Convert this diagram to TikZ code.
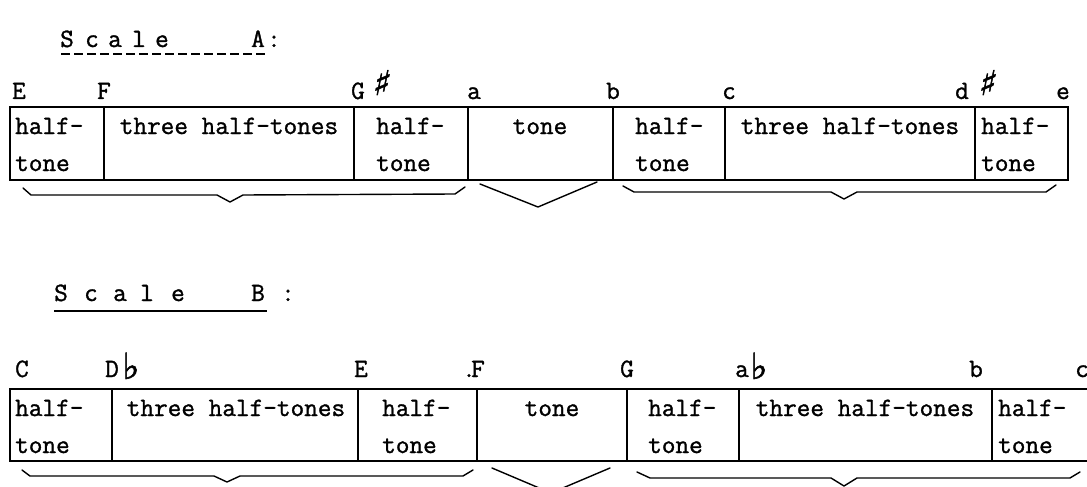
\documentclass[tikz,border=0pt]{standalone}
\usepackage{fontspec}
\setmonofont{Latin Modern Mono}[FakeBold=1.2]
\newfontfamily\symfont{DejaVu Sans}[FakeBold=1.5]
\newcommand\mytt{\fontsize{26.5}{30}\selectfont\ttfamily}
\begin{document}
\begin{tikzpicture}[x=1pt,y=-1pt,
  cell/.style={draw, line width=1.6pt, inner sep=0pt, outer sep=0pt, anchor=north west},
  txt/.style={inner sep=0pt, font=\mytt, anchor=base west},
  ctxt/.style={inner sep=0pt, font=\mytt, anchor=base},
  lbl/.style={inner sep=0pt, font=\mytt, anchor=base},
  ttl/.style={inner sep=0pt, font=\mytt, anchor=base},
  sharp/.style={inner sep=0pt, font=\symfont\fontsize{34}{34}\selectfont, anchor=base, xslant=0.2},
  flat/.style={inner sep=0pt, font=\symfont\fontsize{36}{36}\selectfont, anchor=base},
  brc/.style={line width=1.4pt, line join=round, line cap=round}]
\useasboundingbox (0,0) rectangle (1087,487);
\clip (0,0) rectangle (1087,487);

% ---------------- Scale A ----------------
\node[ttl] (tA1) at (67,47) {S};
\node[ttl] (tA2) at (92,47) {c};
\node[ttl] (tA3) at (115,47) {a};
\node[ttl] (tA4) at (139,47) {l};
\node[ttl] (tA5) at (162,47) {e};
\node[ttl] (tA6) at (258,47) {A};
\node[ttl] (tA7) at (274,47) {:};
\coordinate (uA1) at (61,54);
\coordinate (uA2) at (266,54);
\draw[line width=1.3pt, dash pattern=on 9pt off 4pt] (uA1) -- (uA2);

% labels
\node[lbl] (lAE) at (19,99) {E};
\node[lbl] (lAF) at (104,99) {F};
\node[lbl] (lAG) at (358,99) {G};
\node[sharp] (sA1) at (380,95) {♯};
\node[lbl] (lAa) at (474,99) {a};
\node[lbl] (lAb) at (613,99) {b};
\node[lbl] (lAc) at (729,99) {c};
\node[lbl] (lAd) at (962,99) {d};
\node[sharp] (sA2) at (986,95) {♯};
\node[lbl] (lAe) at (1063,99) {e};

% cells
\node[cell, minimum width=94pt, minimum height=73pt] (cA1) at (10,107) {};
\node[cell, minimum width=250pt, minimum height=73pt] (cA2) at (104,107) {};
\node[cell, minimum width=114pt, minimum height=73pt] (cA3) at (354,107) {};
\node[cell, minimum width=145pt, minimum height=73pt] (cA4) at (468,107) {};
\node[cell, minimum width=112pt, minimum height=73pt] (cA5) at (613,107) {};
\node[cell, minimum width=250pt, minimum height=73pt] (cA6) at (725,107) {};
\node[cell, minimum width=93pt, minimum height=73pt] (cA7) at (975,107) {};

\node[txt] (xA1a) at (15,134) {half-};
\node[txt] (xA1b) at (15,171) {tone};
\node[ctxt] (xA2) at (229,134) {three half-tones};
\node[txt] (xA3a) at (376,134) {half-};
\node[txt] (xA3b) at (376,171) {tone};
\node[ctxt] (xA4) at (540,134) {tone};
\node[txt] (xA5a) at (635,134) {half-};
\node[txt] (xA5b) at (635,171) {tone};
\node[ctxt] (xA6) at (850,134) {three half-tones};
\node[txt] (xA7a) at (981,134) {half-};
\node[txt] (xA7b) at (981,171) {tone};

% braces
\coordinate (bA1a) at (23,188);
\coordinate (bA1b) at (31,195);
\coordinate (bA1c) at (217,195);
\coordinate (bA1d) at (230,202);
\coordinate (bA1e) at (243,195);
\coordinate (bA1f) at (455,194);
\coordinate (bA1g) at (465,187);
\draw[brc] (bA1a) -- (bA1b) -- (bA1c) -- (bA1d) -- (bA1e) -- (bA1f) -- (bA1g);
\coordinate (vA1) at (480,184);
\coordinate (vA2) at (538,207);
\coordinate (vA3) at (597,182);
\draw[brc] (vA1) -- (vA2) -- (vA3);
\coordinate (bA3a) at (623,186);
\coordinate (bA3b) at (634,192);
\coordinate (bA3c) at (831,192);
\coordinate (bA3d) at (844,199);
\coordinate (bA3e) at (857,192);
\coordinate (bA3f) at (1046,192);
\coordinate (bA3g) at (1056,185);
\draw[brc] (bA3a) -- (bA3b) -- (bA3c) -- (bA3d) -- (bA3e) -- (bA3f) -- (bA3g);

% ---------------- Scale B ----------------
\node[ttl] (tB1) at (61,301) {S};
\node[ttl] (tB2) at (91,301) {c};
\node[ttl] (tB3) at (120,301) {a};
\node[ttl] (tB4) at (147,301) {l};
\node[ttl] (tB5) at (178,301) {e};
\node[ttl] (tB6) at (258,301) {B};
\node[ttl] (tB7) at (288,301) {:};
\coordinate (uB1) at (54,311);
\coordinate (uB2) at (267,311);
\draw[line width=1.6pt] (uB1) -- (uB2);

\node[lbl] (lBC) at (22,377) {C};
\node[lbl] (lBD) at (112,377) {D};
\node[flat] (fB1) at (131,379) {♭};
\node[lbl] (lBE) at (361,377) {E};
\node[lbl] (lBdot) at (469,377) {.};
\node[lbl] (lBF) at (478,377) {F};
\node[lbl] (lBG) at (627,377) {G};
\node[lbl] (lBa) at (742,377) {a};
\node[flat] (fB2) at (759,379) {♭};
\node[lbl] (lBb) at (976,377) {b};
\node[lbl] (lBc) at (1082,377) {c};

\node[cell, minimum width=102pt, minimum height=72pt] (cB1) at (10,389) {};
\node[cell, minimum width=246pt, minimum height=72pt] (cB2) at (112,389) {};
\node[cell, minimum width=119pt, minimum height=72pt] (cB3) at (358,389) {};
\node[cell, minimum width=150pt, minimum height=72pt] (cB4) at (477,389) {};
\node[cell, minimum width=112pt, minimum height=72pt] (cB5) at (627,389) {};
\node[cell, minimum width=253pt, minimum height=72pt] (cB6) at (739,389) {};
\node[cell, minimum width=110pt, minimum height=72pt] (cB7) at (992,389) {};

\node[txt] (xB1a) at (15,416) {half-};
\node[txt] (xB1b) at (15,453) {tone};
\node[ctxt] (xB2) at (236,416) {three half-tones};
\node[txt] (xB3a) at (382,416) {half-};
\node[txt] (xB3b) at (382,453) {tone};
\node[ctxt] (xB4) at (552,416) {tone};
\node[txt] (xB5a) at (648,416) {half-};
\node[txt] (xB5b) at (648,453) {tone};
\node[ctxt] (xB6) at (865,416) {three half-tones};
\node[txt] (xB7a) at (998,416) {half-};
\node[txt] (xB7b) at (998,453) {tone};

\coordinate (bB1a) at (22,470);
\coordinate (bB1b) at (30,476);
\coordinate (bB1c) at (214,476);
\coordinate (bB1d) at (227,482);
\coordinate (bB1e) at (240,476);
\coordinate (bB1f) at (463,476);
\coordinate (bB1g) at (473,470);
\draw[brc] (bB1a) -- (bB1b) -- (bB1c) -- (bB1d) -- (bB1e) -- (bB1f) -- (bB1g);
\coordinate (vB1) at (492,468);
\coordinate (vB2) at (551,493);
\coordinate (vB3) at (610,468);
\draw[brc] (vB1) -- (vB2) -- (vB3);
\coordinate (bB3a) at (637,472);
\coordinate (bB3b) at (650,478);
\coordinate (bB3c) at (831,478);
\coordinate (bB3d) at (844,486);
\coordinate (bB3e) at (857,478);
\coordinate (bB3f) at (1070,478);
\coordinate (bB3g) at (1080,472);
\draw[brc] (bB3a) -- (bB3b) -- (bB3c) -- (bB3d) -- (bB3e) -- (bB3f) -- (bB3g);
\end{tikzpicture}
\end{document}
